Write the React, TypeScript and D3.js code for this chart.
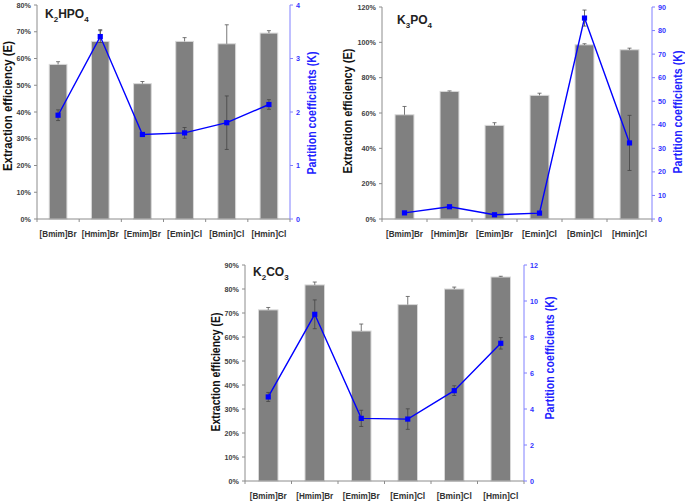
import React from 'react'
import * as d3 from 'd3'

const categories = ['[Bmim]Br', '[Hmim]Br', '[Emim]Br', '[Emin]Cl', '[Bmin]Cl', '[Hmin]Cl']

// K2HPO4
const k2hpo4E = [57.8, 66.4, 50.6, 66.4, 65.5, 69.5]
const k2hpo4EErr = [1.0, 4.4, 0.8, 1.4, 7.1, 0.9]
const k2hpo4K = [1.94, 3.41, 1.58, 1.61, 1.8, 2.14]
const k2hpo4KErr = [0.1, 0.11, 0.03, 0.1, 0.5, 0.09]

// K3PO4
const k3po4E = [59.0, 72.2, 53.0, 70.0, 98.6, 95.8]
const k3po4EErr = [4.7, 0.3, 1.5, 1.2, 0.6, 0.9]
const k3po4K = [2.6, 5.2, 1.8, 2.5, 85.3, 32.3]
const k3po4KErr = [0.2, 0.3, 0.2, 0.2, 3.4, 11.7]

// K2CO3
const k2co3E = [71.3, 81.7, 62.5, 73.5, 80.0, 85.0]
const k2co3EErr = [1.0, 1.2, 2.9, 3.4, 0.8, 0.3]
const k2co3K = [4.67, 9.26, 3.48, 3.44, 5.02, 7.65]
const k2co3KErr = [0.25, 0.8, 0.45, 0.57, 0.27, 0.32]

const eTicks1 = [0, 10, 20, 30, 40, 50, 60, 70, 80]
const kTicks1 = [0, 1, 2, 3, 4]
const eTicks2 = [0, 20, 40, 60, 80, 100, 120]
const kTicks2 = [0, 10, 20, 30, 40, 50, 60, 70, 80, 90]
const eTicks3 = [0, 10, 20, 30, 40, 50, 60, 70, 80, 90]
const kTicks3 = [0, 2, 4, 6, 8, 10, 12]

const font = "'Liberation Sans', Arial, sans-serif"

function Panel({ box, E, EErr, K, KErr, eTicks, kTicks, title, titlePos, leftTitle, rightTitle }) {
  const x = d3.scaleBand().domain(categories).range([box.left, box.right])
  const yE = d3.scaleLinear().domain([0, eTicks[eTicks.length - 1]]).range([box.bottom, box.top])
  const yK = d3.scaleLinear().domain([0, kTicks[kTicks.length - 1]]).range([box.bottom, box.top])
  const bw = x.bandwidth() * 0.42
  const cx = c => x(c) + x.bandwidth() / 2
  const line = d3.line().x((d, i) => cx(categories[i])).y(d => yK(d))
  const cap = 2

  return (
    <g>
      {/* bars */}
      {categories.map((c, i) => (
        <g key={c}>
          <rect x={cx(c) - bw / 2} y={yE(E[i])} width={bw} height={box.bottom - yE(E[i])}
            fill='#808080' stroke='#d9d9d9' strokeWidth={1} />
          <line x1={cx(c)} x2={cx(c)} y1={yE(E[i])} y2={yE(E[i] + EErr[i])} stroke='#555' strokeWidth={0.8} />
          <line x1={cx(c) - cap} x2={cx(c) + cap} y1={yE(E[i] + EErr[i])} y2={yE(E[i] + EErr[i])} stroke='#555' strokeWidth={0.8} />
        </g>
      ))}

      {/* axes */}
      <line x1={box.left} x2={box.left} y1={box.top} y2={box.bottom} stroke='#8c8c8c' />
      <line x1={box.left} x2={box.right} y1={box.bottom} y2={box.bottom} stroke='#8c8c8c' />
      <line x1={box.right} x2={box.right} y1={box.top} y2={box.bottom} stroke='#8080ff' />
      {d3.range(categories.length + 1).map(i => {
        const xx = box.left + i * x.bandwidth()
        return <line key={i} x1={xx} x2={xx} y1={box.bottom} y2={box.bottom + 3} stroke='#8c8c8c' />
      })}
      {eTicks.map(t => (
        <g key={t} transform={`translate(${box.left},${yE(t)})`}>
          <line x1={-3} x2={0} stroke='#8c8c8c' />
          <text x={-6} dy='0.35em' textAnchor='end' fontSize={7.2} fontWeight='bold' fill='#404040' fontFamily={font}>{t}%</text>
        </g>
      ))}
      {kTicks.map(t => (
        <g key={t} transform={`translate(${box.right},${yK(t)})`}>
          <line x1={0} x2={3} stroke='#8080ff' />
          <text x={6} dy='0.35em' fontSize={7.2} fontWeight='bold' fill='#3333ff' fontFamily={font}>{t}</text>
        </g>
      ))}
      {categories.map(c => (
        <text key={c} x={cx(c)} y={box.bottom + 18} textAnchor='middle' fontSize={9.2} fontWeight='bold'
          fill='#333' fontFamily={font} textLength={c.endsWith('Br') ? 37 : 35} lengthAdjust='spacingAndGlyphs'>{c}</text>
      ))}

      {/* K line */}
      <path d={line(K)} fill='none' stroke='#0000ff' strokeWidth={1.4} />
      {categories.map((c, i) => (
        <g key={c}>
          <line x1={cx(c)} x2={cx(c)} y1={yK(K[i] - KErr[i])} y2={yK(K[i] + KErr[i])} stroke='#444' strokeWidth={0.8} />
          <line x1={cx(c) - cap} x2={cx(c) + cap} y1={yK(K[i] + KErr[i])} y2={yK(K[i] + KErr[i])} stroke='#444' strokeWidth={0.8} />
          <line x1={cx(c) - cap} x2={cx(c) + cap} y1={yK(K[i] - KErr[i])} y2={yK(K[i] - KErr[i])} stroke='#444' strokeWidth={0.8} />
          <rect x={cx(c) - 2.6} y={yK(K[i]) - 2.6} width={5.2} height={5.2} fill='#0000ff' />
        </g>
      ))}

      {/* titles */}
      <text x={titlePos[0]} y={titlePos[1]} fontSize={12} fontWeight='bold' fill='#222' fontFamily={font}>
        {title.map(([s, sub], i) => (
          <tspan key={i} fontSize={sub ? 8 : 12} dy={sub ? 3.5 : i > 0 ? -3.5 : 0}>{s}</tspan>
        ))}
      </text>
      <text transform={`translate(${leftTitle[0]},${leftTitle[1]}) rotate(-90)`} textAnchor='middle' dy='0.35em'
        fontSize={12} fontWeight='bold' fill='#111' fontFamily={font} textLength={leftTitle[2]} lengthAdjust='spacingAndGlyphs'>
        Extraction efficiency (E)
      </text>
      <text transform={`translate(${rightTitle[0]},${rightTitle[1]}) rotate(-90)`} textAnchor='middle' dy='0.35em'
        fontSize={12} fontWeight='bold' fill='#2222ff' fontFamily={font} textLength={rightTitle[2]} lengthAdjust='spacingAndGlyphs'>
        Partition coefficients (K)
      </text>
    </g>
  )
}

export default function App() {
  return (
    <svg width={685} height={503} style={{ position: 'absolute', left: 0, top: 0, background: '#fff' }}>
      <Panel box={{ left: 37, right: 290, top: 5, bottom: 219 }} E={k2hpo4E} EErr={k2hpo4EErr} K={k2hpo4K} KErr={k2hpo4KErr}
        eTicks={eTicks1} kTicks={kTicks1} title={[['K', false], ['2', true], ['HPO', false], ['4', true]]}
        titlePos={[45, 18]} leftTitle={[8, 106, 130]} rightTitle={[312, 113, 123]} />
      <Panel box={{ left: 382, right: 652, top: 7, bottom: 219 }} E={k3po4E} EErr={k3po4EErr} K={k3po4K} KErr={k3po4KErr}
        eTicks={eTicks2} kTicks={kTicks2} title={[['K', false], ['3', true], ['PO', false], ['4', true]]}
        titlePos={[397, 24]} leftTitle={[348, 111, 125]} rightTitle={[678, 112, 123]} />
      <Panel box={{ left: 245, right: 524, top: 265, bottom: 481 }} E={k2co3E} EErr={k2co3EErr} K={k2co3K} KErr={k2co3KErr}
        eTicks={eTicks3} kTicks={kTicks3} title={[['K', false], ['2', true], ['CO', false], ['3', true]]}
        titlePos={[253, 276]} leftTitle={[216, 372, 119]} rightTitle={[550, 358, 123]} />
    </svg>
  )
}
